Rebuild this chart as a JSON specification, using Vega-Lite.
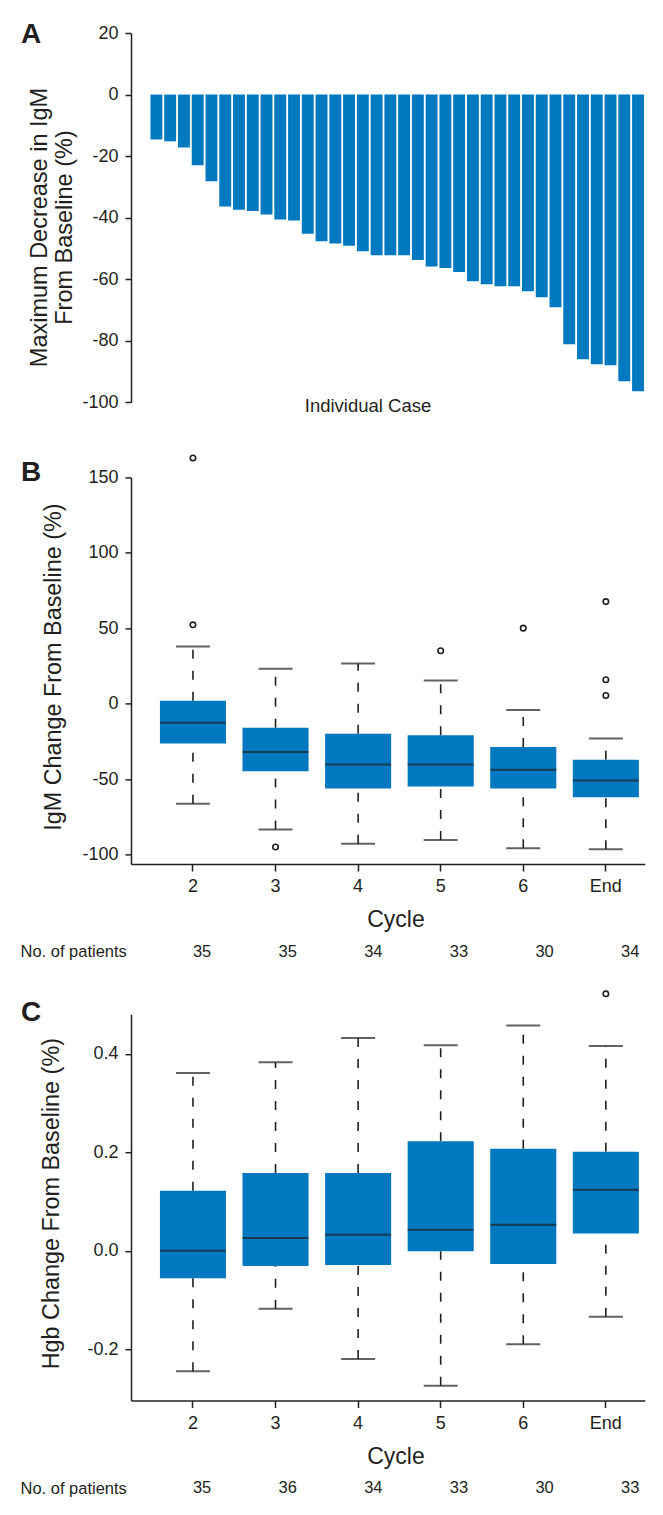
{
  "$schema": "https://vega.github.io/schema/vega-lite/v6.json",
  "background": "white",
  "padding": {"left": 20, "top": 21, "right": 5, "bottom": 5},
  "bounds": "flush",
  "spacing": 74.4,
  "resolve": {"scale": {"x": "independent", "y": "independent"}},
  "datasets": {
    "bars": [
      {"case": 1, "value": -14.6}, {"case": 2, "value": -15.2}, {"case": 3, "value": -17.2}, {"case": 4, "value": -23.0},
      {"case": 5, "value": -28.2}, {"case": 6, "value": -36.4}, {"case": 7, "value": -37.4}, {"case": 8, "value": -37.8},
      {"case": 9, "value": -39.0}, {"case": 10, "value": -40.6}, {"case": 11, "value": -40.9}, {"case": 12, "value": -45.2},
      {"case": 13, "value": -47.7}, {"case": 14, "value": -48.4}, {"case": 15, "value": -49.1}, {"case": 16, "value": -50.9},
      {"case": 17, "value": -52.2}, {"case": 18, "value": -52.2}, {"case": 19, "value": -52.2}, {"case": 20, "value": -53.8},
      {"case": 21, "value": -55.9}, {"case": 22, "value": -56.4}, {"case": 23, "value": -57.7}, {"case": 24, "value": -60.7},
      {"case": 25, "value": -61.6}, {"case": 26, "value": -62.3}, {"case": 27, "value": -62.3}, {"case": 28, "value": -63.9},
      {"case": 29, "value": -65.9}, {"case": 30, "value": -69.1}, {"case": 31, "value": -81.1}, {"case": 32, "value": -86.0},
      {"case": 33, "value": -87.6}, {"case": 34, "value": -88.0}, {"case": 35, "value": -93.2}, {"case": 36, "value": -96.4}
    ],
    "igm": [
      {"cycle": "2", "lo": -66.2, "q1": -26.3, "med": -12.6, "q3": 2.0, "hi": 37.9},
      {"cycle": "3", "lo": -83.4, "q1": -44.8, "med": -32.0, "q3": -15.9, "hi": 23.2},
      {"cycle": "4", "lo": -92.7, "q1": -56.1, "med": -40.2, "q3": -19.9, "hi": 26.7},
      {"cycle": "5", "lo": -90.3, "q1": -54.8, "med": -40.2, "q3": -20.8, "hi": 15.4},
      {"cycle": "6", "lo": -95.8, "q1": -56.1, "med": -43.7, "q3": -28.7, "hi": -4.2},
      {"cycle": "End", "lo": -96.5, "q1": -62.0, "med": -50.8, "q3": -37.1, "hi": -23.0}
    ],
    "igmOut": [
      {"cycle": "2", "value": 52.3}, {"cycle": "2", "value": 162.9}, {"cycle": "3", "value": -94.9},
      {"cycle": "5", "value": 35.1}, {"cycle": "6", "value": 50.1},
      {"cycle": "End", "value": 67.7}, {"cycle": "End", "value": 15.9}, {"cycle": "End", "value": 5.5}
    ],
    "igmN": [
      {"cycle": "2", "n": 35, "row": "No. of patients"}, {"cycle": "3", "n": 35, "row": "No. of patients"},
      {"cycle": "4", "n": 34, "row": "No. of patients"}, {"cycle": "5", "n": 33, "row": "No. of patients"},
      {"cycle": "6", "n": 30, "row": "No. of patients"}, {"cycle": "End", "n": 34, "row": "No. of patients"}
    ],
    "hgb": [
      {"cycle": "2", "lo": -0.245, "q1": -0.056, "med": 0.0, "q3": 0.122, "hi": 0.361},
      {"cycle": "3", "lo": -0.118, "q1": -0.031, "med": 0.026, "q3": 0.158, "hi": 0.383},
      {"cycle": "4", "lo": -0.22, "q1": -0.029, "med": 0.0325, "q3": 0.158, "hi": 0.432},
      {"cycle": "5", "lo": -0.274, "q1": -0.001, "med": 0.0426, "q3": 0.2227, "hi": 0.4177},
      {"cycle": "6", "lo": -0.19, "q1": -0.027, "med": 0.0528, "q3": 0.207, "hi": 0.4575},
      {"cycle": "End", "lo": -0.134, "q1": 0.035, "med": 0.124, "q3": 0.201, "hi": 0.416}
    ],
    "hgbOut": [
      {"cycle": "End", "value": 0.522}
    ],
    "hgbN": [
      {"cycle": "2", "n": 35, "row": "No. of patients"}, {"cycle": "3", "n": 36, "row": "No. of patients"},
      {"cycle": "4", "n": 34, "row": "No. of patients"}, {"cycle": "5", "n": 33, "row": "No. of patients"},
      {"cycle": "6", "n": 30, "row": "No. of patients"}, {"cycle": "End", "n": 33, "row": "No. of patients"}
    ]
  },
  "vconcat": [
    {
      "width": 513.8,
      "height": 369.3,
      "data": {"name": "bars"},
      "title": {"text": "A", "anchor": "start", "frame": "group", "offset": -47, "dx": -110, "baseline": "alphabetic", "fontSize": 28, "fontWeight": "bold", "font": "Liberation Sans", "color": "#231f20"},
      "mark": {"type": "bar", "color": "#0079c1"},
      "encoding": {
        "x": {
          "field": "case", "type": "ordinal",
          "scale": {"paddingInner": 0.135, "paddingOuter": 0.737, "align": 0.96},
          "axis": {"domain": false, "ticks": false, "labels": false, "title": "Individual Case", "titleFontSize": 18.5, "titleFontWeight": "normal", "titleX": 236.5, "titleY": 9.5, "titleBaseline": "alphabetic"}
        },
        "y": {
          "field": "value", "type": "quantitative",
          "scale": {"domain": [-100, 20], "nice": false, "zero": false},
          "axis": {"values": [-100, -80, -60, -40, -20, 0, 20], "title": ["Maximum Decrease in IgM", "From Baseline (%)"], "titleFontSize": 23.5, "titleLineHeight": 25, "titlePadding": 5.7, "titleY": 194, "labelExpr": "replace(datum.label, '\u2212', '-')"}
        }
      }
    },
    {
      "width": 513.8,
      "height": 386.6,
      "title": {"text": "B", "anchor": "start", "frame": "group", "offset": -57, "dx": -110, "baseline": "alphabetic", "fontSize": 28, "fontWeight": "bold", "font": "Liberation Sans", "color": "#231f20"},
      "layer": [
        {
          "data": {"name": "igm"},
          "mark": {"type": "rule", "strokeDash": [9, 12], "strokeWidth": 1.6, "color": "#231f20"},
          "encoding": {
            "x": {
              "field": "cycle", "type": "ordinal", "sort": ["2", "3", "4", "5", "6", "End"],
              "scale": {"paddingInner": 0.2, "paddingOuter": 0.211, "align": 0.83},
              "axis": {"title": "Cycle", "labelAngle": 0, "titleFontSize": 23, "titleFontWeight": "normal", "titleX": 264.5, "titleY": 62.4, "titleBaseline": "alphabetic", "tickSize": 7, "labelPadding": 7}
            },
            "y": {
              "field": "lo", "type": "quantitative",
              "scale": {"domain": [-106.2, 150], "nice": false, "zero": false},
              "axis": {"values": [-100, -50, 0, 50, 100, 150], "title": "IgM Change From Baseline (%)", "titleFontSize": 23.4, "titlePadding": 16.3, "titleY": 189.2, "labelExpr": "replace(datum.label, '\u2212', '-')"}
            },
            "y2": {"field": "q1"}
          }
        },
        {
          "data": {"name": "igm"},
          "mark": {"type": "rule", "strokeDash": [9, 12], "strokeWidth": 1.6, "color": "#231f20"},
          "encoding": {
            "x": {"field": "cycle", "type": "ordinal", "sort": ["2", "3", "4", "5", "6", "End"]},
            "y": {"field": "q3", "type": "quantitative", "title": "IgM Change From Baseline (%)"},
            "y2": {"field": "hi"}
          }
        },
        {
          "data": {"name": "igm"},
          "mark": {"type": "tick", "orient": "horizontal", "size": 34, "thickness": 2, "color": "#231f20"},
          "encoding": {
            "x": {"field": "cycle", "type": "ordinal", "sort": ["2", "3", "4", "5", "6", "End"]},
            "y": {"field": "lo", "type": "quantitative", "title": "IgM Change From Baseline (%)"}
          }
        },
        {
          "data": {"name": "igm"},
          "mark": {"type": "tick", "orient": "horizontal", "size": 34, "thickness": 2, "color": "#231f20"},
          "encoding": {
            "x": {"field": "cycle", "type": "ordinal", "sort": ["2", "3", "4", "5", "6", "End"]},
            "y": {"field": "hi", "type": "quantitative", "title": "IgM Change From Baseline (%)"}
          }
        },
        {
          "data": {"name": "igm"},
          "mark": {"type": "bar", "color": "#0079c1"},
          "encoding": {
            "x": {"field": "cycle", "type": "ordinal", "sort": ["2", "3", "4", "5", "6", "End"]},
            "y": {"field": "q1", "type": "quantitative", "title": "IgM Change From Baseline (%)"},
            "y2": {"field": "q3"}
          }
        },
        {
          "data": {"name": "igm"},
          "mark": {"type": "tick", "orient": "horizontal", "size": 66, "thickness": 2, "color": "#231f20"},
          "encoding": {
            "x": {"field": "cycle", "type": "ordinal", "sort": ["2", "3", "4", "5", "6", "End"]},
            "y": {"field": "med", "type": "quantitative", "title": "IgM Change From Baseline (%)"}
          }
        },
        {
          "data": {"name": "igmOut"},
          "mark": {"type": "point", "shape": "circle", "filled": false, "size": 30, "strokeWidth": 1.6, "color": "#231f20", "opacity": 1},
          "encoding": {
            "x": {"field": "cycle", "type": "ordinal", "sort": ["2", "3", "4", "5", "6", "End"]},
            "y": {"field": "value", "type": "quantitative", "title": "IgM Change From Baseline (%)"}
          }
        }
      ]
    },
    {
      "width": 513.8,
      "height": 1,
      "data": {"name": "igmN"},
      "mark": {"type": "text", "dy": 12.5, "baseline": "middle", "fontSize": 16.5, "font": "Liberation Sans", "color": "#231f20"},
      "encoding": {
        "x": {
          "field": "cycle", "type": "ordinal", "sort": ["2", "3", "4", "5", "6", "End"],
          "scale": {"paddingInner": 0.2, "paddingOuter": 0.211, "align": 0.83},
          "axis": null
        },
        "y": {
          "field": "row", "type": "nominal",
          "axis": {"domain": false, "ticks": false, "tickSize": 0, "title": null, "labelAlign": "left", "labelPadding": 111, "labelOffset": 12.5, "labelFontSize": 16.5, "labelBaseline": "middle"}
        },
        "text": {"field": "n", "type": "quantitative"}
      }
    },
    {
      "width": 513.8,
      "height": 386.4,
      "title": {"text": "C", "anchor": "start", "frame": "group", "offset": -61.4, "dx": -110, "baseline": "alphabetic", "fontSize": 28, "fontWeight": "bold", "font": "Liberation Sans", "color": "#231f20"},
      "layer": [
        {
          "data": {"name": "hgb"},
          "mark": {"type": "rule", "strokeDash": [9, 12], "strokeWidth": 1.6, "color": "#231f20"},
          "encoding": {
            "x": {
              "field": "cycle", "type": "ordinal", "sort": ["2", "3", "4", "5", "6", "End"],
              "scale": {"paddingInner": 0.2, "paddingOuter": 0.211, "align": 0.83},
              "axis": {"title": "Cycle", "labelAngle": 0, "titleFontSize": 23, "titleFontWeight": "normal", "titleX": 264.5, "titleY": 62.5, "titleBaseline": "alphabetic", "tickSize": 7, "labelPadding": 7}
            },
            "y": {
              "field": "lo", "type": "quantitative",
              "scale": {"domain": [-0.3044, 0.4806], "nice": false, "zero": false},
              "axis": {"values": [-0.2, 0, 0.2, 0.4], "format": ".1f", "title": "Hgb Change From Baseline (%)", "titleFontSize": 23.4, "titlePadding": 23.5, "titleY": 189, "labelExpr": "replace(datum.label, '\u2212', '-')"}
            },
            "y2": {"field": "q1"}
          }
        },
        {
          "data": {"name": "hgb"},
          "mark": {"type": "rule", "strokeDash": [9, 12], "strokeWidth": 1.6, "color": "#231f20"},
          "encoding": {
            "x": {"field": "cycle", "type": "ordinal", "sort": ["2", "3", "4", "5", "6", "End"]},
            "y": {"field": "q3", "type": "quantitative", "title": "Hgb Change From Baseline (%)"},
            "y2": {"field": "hi"}
          }
        },
        {
          "data": {"name": "hgb"},
          "mark": {"type": "tick", "orient": "horizontal", "size": 34, "thickness": 2, "color": "#231f20"},
          "encoding": {
            "x": {"field": "cycle", "type": "ordinal", "sort": ["2", "3", "4", "5", "6", "End"]},
            "y": {"field": "lo", "type": "quantitative", "title": "Hgb Change From Baseline (%)"}
          }
        },
        {
          "data": {"name": "hgb"},
          "mark": {"type": "tick", "orient": "horizontal", "size": 34, "thickness": 2, "color": "#231f20"},
          "encoding": {
            "x": {"field": "cycle", "type": "ordinal", "sort": ["2", "3", "4", "5", "6", "End"]},
            "y": {"field": "hi", "type": "quantitative", "title": "Hgb Change From Baseline (%)"}
          }
        },
        {
          "data": {"name": "hgb"},
          "mark": {"type": "bar", "color": "#0079c1"},
          "encoding": {
            "x": {"field": "cycle", "type": "ordinal", "sort": ["2", "3", "4", "5", "6", "End"]},
            "y": {"field": "q1", "type": "quantitative", "title": "Hgb Change From Baseline (%)"},
            "y2": {"field": "q3"}
          }
        },
        {
          "data": {"name": "hgb"},
          "mark": {"type": "tick", "orient": "horizontal", "size": 66, "thickness": 2, "color": "#231f20"},
          "encoding": {
            "x": {"field": "cycle", "type": "ordinal", "sort": ["2", "3", "4", "5", "6", "End"]},
            "y": {"field": "med", "type": "quantitative", "title": "Hgb Change From Baseline (%)"}
          }
        },
        {
          "data": {"name": "hgbOut"},
          "mark": {"type": "point", "shape": "circle", "filled": false, "size": 30, "strokeWidth": 1.6, "color": "#231f20", "opacity": 1},
          "encoding": {
            "x": {"field": "cycle", "type": "ordinal", "sort": ["2", "3", "4", "5", "6", "End"]},
            "y": {"field": "value", "type": "quantitative", "title": "Hgb Change From Baseline (%)"}
          }
        }
      ]
    },
    {
      "width": 513.8,
      "height": 1,
      "data": {"name": "hgbN"},
      "mark": {"type": "text", "dy": 12.2, "baseline": "middle", "fontSize": 16.5, "font": "Liberation Sans", "color": "#231f20"},
      "encoding": {
        "x": {
          "field": "cycle", "type": "ordinal", "sort": ["2", "3", "4", "5", "6", "End"],
          "scale": {"paddingInner": 0.2, "paddingOuter": 0.211, "align": 0.83},
          "axis": null
        },
        "y": {
          "field": "row", "type": "nominal",
          "axis": {"domain": false, "ticks": false, "tickSize": 0, "title": null, "labelAlign": "left", "labelPadding": 111, "labelOffset": 12.2, "labelFontSize": 16.5, "labelBaseline": "middle"}
        },
        "text": {"field": "n", "type": "quantitative"}
      }
    }
  ],
  "config": {
    "view": {"stroke": null},
    "font": "Liberation Sans",
    "axis": {
      "grid": false,
      "labelFont": "Liberation Sans",
      "titleFont": "Liberation Sans",
      "labelColor": "#231f20",
      "titleColor": "#231f20",
      "domainColor": "#231f20",
      "tickColor": "#231f20",
      "domainWidth": 1.5,
      "tickWidth": 1.5,
      "tickSize": 6,
      "labelPadding": 7,
      "labelFontSize": 18,
      "titleFontWeight": "normal"
    }
  }
}
